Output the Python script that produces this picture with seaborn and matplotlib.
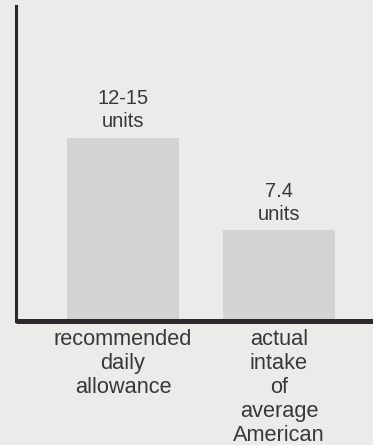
import matplotlib
matplotlib.use("Agg")
import matplotlib.pyplot as plt
import seaborn as sns
import pandas as pd

# Daily intake comparison
categories = ["recommended\ndaily\nallowance", "actual\nintake\nof\naverage\nAmerican"]
values = [15, 7.4]
value_labels = ["12-15\nunits", "7.4\nunits"]

BG = "#ebebe9"
BAR = "#d3d3d2"
INK = "#3a373a"
AXIS = "#2c282c"

sns.set_style("white")
plt.rcParams["font.family"] = ["Liberation Sans", "DejaVu Sans"]

df = pd.DataFrame({"group": categories, "units": values})

fig = plt.figure(figsize=(3.73, 4.45), dpi=100, facecolor=BG)
ax = fig.add_axes([0.043, 0.279, 0.957, 0.708])
ax.set_facecolor(BG)

sns.barplot(data=df, x="group", y="units", color=BAR, saturation=1,
            width=0.72, edgecolor="none", ax=ax)

ax.set_xlim(-0.686, 1.603)
ax.set_ylim(0, 25.8)

for patch, label in zip(ax.patches, value_labels):
    ax.annotate(label, (patch.get_x() + patch.get_width() / 2, patch.get_height()),
                xytext=(0, 5), textcoords="offset points",
                ha="center", va="bottom", fontsize=14.5, color=INK,
                linespacing=1.22)

ax.set_xlabel("")
ax.set_ylabel("")
ax.set_yticks([])
ax.tick_params(axis="x", length=0, pad=6, labelsize=15.7, labelcolor=INK)
for lbl in ax.get_xticklabels():
    lbl.set_linespacing(1.18)

for side in ("top", "right"):
    ax.spines[side].set_visible(False)
ax.spines["left"].set_linewidth(2.2)
ax.spines["left"].set_color(AXIS)
ax.spines["bottom"].set_linewidth(3.6)
ax.spines["bottom"].set_color(AXIS)
ax.spines["bottom"].set_capstyle("butt")

fig.savefig("out.png", dpi=100, facecolor=BG)
